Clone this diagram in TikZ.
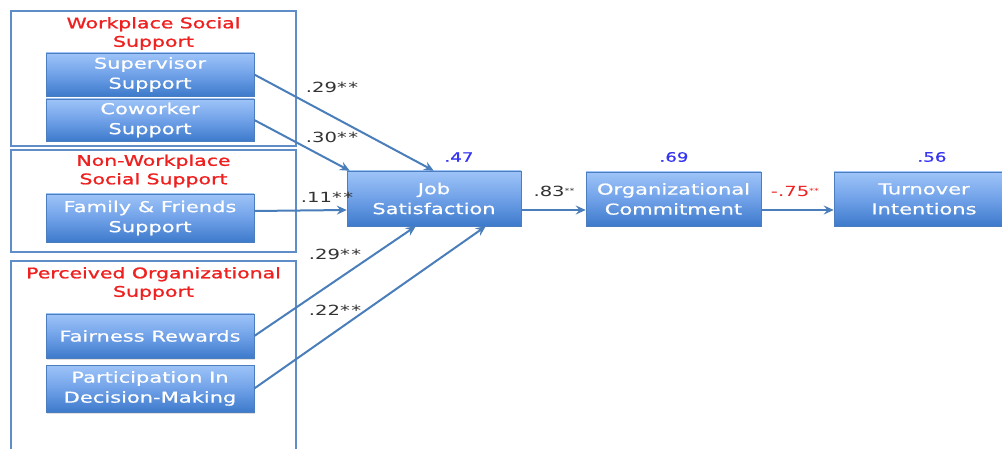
\documentclass[tikz,border=0pt]{standalone}
\usepackage{fontspec}
\usetikzlibrary{arrows.meta,shadows}
\newfontfamily\diagfont[FakeStretch=1.4]{DejaVu Sans}
\newfontfamily\boxfont[FakeStretch=1.4,FakeBold=0.6]{DejaVu Sans}
\newfontfamily\titlefont[FakeStretch=1.4,FakeBold=1.2]{DejaVu Sans}
\definecolor{groupline}{HTML}{5F8DC8}
\definecolor{boxtop}{HTML}{9EC4F8}
\definecolor{boxmid}{HTML}{70A1E8}
\definecolor{boxbot}{HTML}{3D7ACB}
\definecolor{boxedge}{HTML}{4C7DBE}
\definecolor{arrowblue}{HTML}{4A7EBB}
\definecolor{titlered}{HTML}{EE2020}
\definecolor{rsq}{HTML}{3535F2}
\definecolor{coef}{HTML}{333333}

\begin{document}
\begin{tikzpicture}[x=1pt,y=-1pt,
  groupbox/.style={draw=groupline,line width=1.2pt},
  grouptitle/.style={text=titlered,align=center,inner sep=0pt,
    font=\titlefont\fontsize{14.6}{18.5}\selectfont},
  varbox/.style={rectangle,top color=boxtop,bottom color=boxbot,middle color=boxmid,
    draw=boxedge,line width=0.5pt,text=white,align=center,inner sep=0pt,
    font=\boxfont\fontsize{15}{20}\selectfont,
    drop shadow={opacity=0.25,shadow xshift=1pt,shadow yshift=-1.5pt}},
  path/.style={draw=arrowblue,line width=2pt,
    -{Stealth[length=10pt,width=9pt,inset=3.5pt]}},
  coefl/.style={text=coef,inner sep=0pt,font=\diagfont\fontsize{14}{16}\selectfont},
  rsql/.style={text=rsq,inner sep=0pt,font=\boxfont\fontsize{13}{16}\selectfont}
]
\useasboundingbox (0,0) rectangle (1002,449);
\clip (0,0) rectangle (1002,449);
\fill[white] (0,0) rectangle (1002,449);

% construct groups
\draw[groupbox] (11,11) rectangle (296,146);
\draw[groupbox] (11,150) rectangle (296,252);
\draw[groupbox] (11,460) -- (11,261) -- (296,261) -- (296,460);

\node[grouptitle] (t1) at (153.5,33.5) {Workplace Social\\Support};
\node[grouptitle] (t2) at (153.5,171) {Non-Workplace\\Social Support};
\node[grouptitle] (t3) at (153.5,283.5) {Perceived Organizational\\Support};

% predictor variables
\node[varbox,minimum width=208pt,minimum height=43pt] (sup) at (150,74.5) {Supervisor\\Support};
\node[varbox,minimum width=208pt,minimum height=42pt] (cow) at (150,120) {Coworker\\Support};
\node[varbox,minimum width=208pt,minimum height=48pt] (fam) at (150,218) {Family \& Friends\\Support};
\node[varbox,minimum width=208pt,minimum height=44pt] (fair) at (150,336) {Fairness Rewards};
\node[varbox,minimum width=208pt,minimum height=47pt] (part) at (150,388.5) {Participation In\\Decision-Making};

% outcome chain
\node[varbox,minimum width=174pt,minimum height=55pt] (job) at (434,198.5) {Job\\Satisfaction};
\node[varbox,minimum width=175pt,minimum height=54pt] (org) at (673.5,199) {Organizational\\Commitment};
\node[varbox,minimum width=180pt,minimum height=54pt] (turn) at (924,199) {Turnover\\Intentions};

% paths
\draw[path] (sup.east) -- ([xshift=87pt]job.north west);
\draw[path] (cow.east) -- ([xshift=3pt]job.north west);
\draw[path] ([yshift=7pt]fam.east) -- ([yshift=-11.5pt]job.west);
\draw[path] (fair.east) -- ([xshift=69pt]job.south west);
\draw[path] (part.east) -- ([xshift=139pt]job.south west);
\draw[path] ([yshift=-11.5pt]job.east) -- ([yshift=-11pt]org.west);
\draw[path] ([yshift=-11pt]org.east) -- ([yshift=-11pt]turn.west);

% path coefficients
\node[coefl] (c1) at (332,87) {.29*\kern1.5pt*};
\node[coefl] (c2) at (332,137) {.30*\kern1.5pt*};
\node[coefl] (c3) at (327,197) {.11*\kern1.5pt*};
\node[coefl] (c4) at (335,254) {.29*\kern1.5pt*};
\node[coefl] (c5) at (335,310) {.22*\kern1.5pt*};
\node[coefl] (c6) at (554,191) {.83\raisebox{3pt}{\fontsize{7}{7}\selectfont**}};
\node[coefl,text=titlered] (c7) at (795,191) {-.75\raisebox{3pt}{\fontsize{7}{7}\selectfont**}};

% explained variance
\node[rsql] (r1) at (459,157) {.47};
\node[rsql] (r2) at (674,157) {.69};
\node[rsql] (r3) at (932,157) {.56};
\end{tikzpicture}
\end{document}
